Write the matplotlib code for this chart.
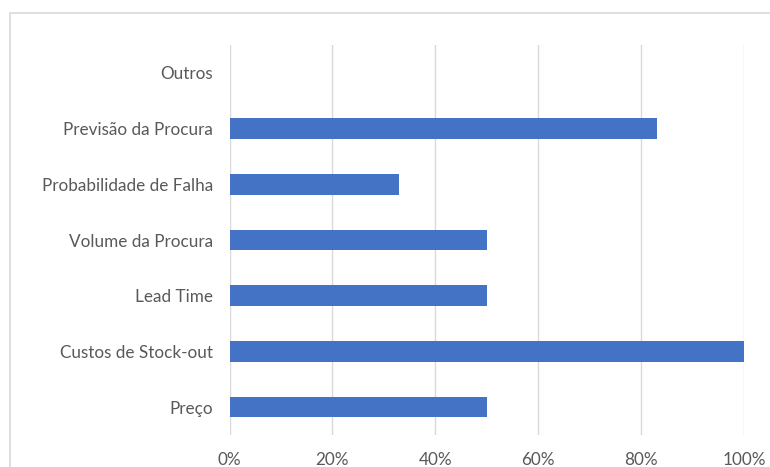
import matplotlib.pyplot as plt
from matplotlib.patches import Rectangle
from matplotlib.ticker import PercentFormatter

categorias = ['Preço', 'Custos de Stock-out', 'Lead Time', 'Volume da Procura',
              'Probabilidade de Falha', 'Previsão da Procura', 'Outros']
valores = [0.50, 1.00, 0.50, 0.50, 0.33, 0.83, 0.0]

plt.rcParams['font.family'] = ['Lato', 'DejaVu Sans']

fig = plt.figure(figsize=(7.7, 4.67), dpi=100)
ax = fig.add_axes([229.5/770, 1 - 435/467, (744 - 229.5)/770, (435 - 45)/467])

ax.barh(range(len(categorias)), valores, height=0.37, color='#4472C4', zorder=3)

ax.set_xlim(0, 1)
ax.set_ylim(-0.5, len(categorias) - 0.5)
ax.set_xticks([0, 0.2, 0.4, 0.6, 0.8, 1.0])
ax.xaxis.set_major_formatter(PercentFormatter(1.0, decimals=0))
ax.set_yticks(range(len(categorias)))
ax.set_yticklabels(categorias)
ax.grid(axis='x', color='#D9D9D9', lw=1, zorder=0)
for s in ax.spines.values():
    s.set_visible(False)
ax.tick_params(length=0, colors='#595959', labelsize=12.3)
ax.tick_params(axis='y', pad=12)
ax.tick_params(axis='x', pad=12)

# moldura do gráfico
fig.patches.append(Rectangle((10/770, -0.1), 1, 1 - 13/467 + 0.1, transform=fig.transFigure,
                             fill=False, edgecolor='#D9D9D9', lw=1.2))

fig.savefig('out.png', dpi=100)
